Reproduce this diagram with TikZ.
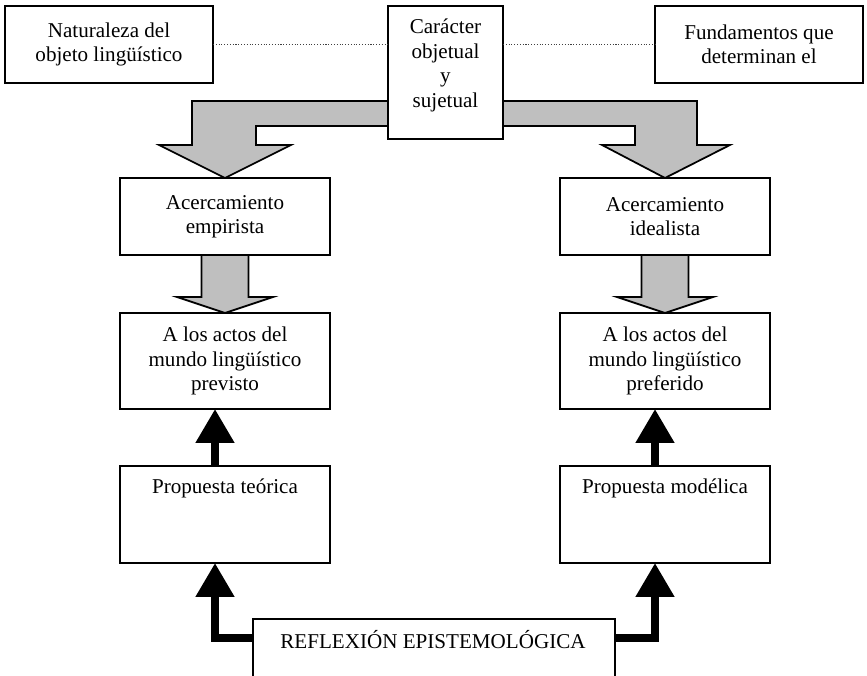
\documentclass[tikz,border=0pt]{standalone}
\usepackage{fontspec}
\setmainfont{Liberation Serif}
\usetikzlibrary{arrows.meta}

\tikzset{
	caja/.style={draw, line width=1pt, fill=white, inner sep=0pt, outer sep=0pt, align=center, font=\fontsize{12}{13.9}\selectfont},
	texto/.style={inner sep=0pt, align=center, font=\fontsize{12}{13.9}\selectfont},
	flechagris/.style={draw, line width=1pt, fill=black!25, line join=miter},
	flechanegra/.style={line width=0.16cm, -{Triangle[width=0.74cm,length=0.68cm]}},
	punteado/.style={densely dotted, black!75, line width=0.6pt}
}

\begin{document}
\begin{tikzpicture}
	\path[use as bounding box, clip] (0,0) rectangle (17.34,-13.52);
	% fila superior
	\node[caja, minimum width=4.16cm, minimum height=1.54cm] (nat) at (2.18,-0.89) {Naturaleza del\\objeto lingüístico};
	\node[caja, minimum width=4.16cm, minimum height=1.54cm] (fun) at (15.18,-0.89) {Fundamentos que\\determinan el};
	% columna izquierda
	\node[caja, minimum width=4.2cm, minimum height=1.54cm] (emp) at (4.50,-4.33) {Acercamiento\\empirista};
	\node[caja, minimum width=4.2cm, minimum height=1.92cm] (prev) at (4.50,-7.22) {A los actos del\\mundo lingüístico\\previsto};
	\node[caja, minimum width=4.2cm, minimum height=1.94cm] (teo) at (4.50,-10.29) {};
	\node[texto] (teotxt) at ([yshift=-0.44cm]teo.north) {Propuesta teórica};
	% columna derecha
	\node[caja, minimum width=4.2cm, minimum height=1.54cm] (ide) at (13.30,-4.33) {Acercamiento\\idealista};
	\node[caja, minimum width=4.2cm, minimum height=1.92cm] (pref) at (13.30,-7.22) {A los actos del\\mundo lingüístico\\preferido};
	\node[caja, minimum width=4.2cm, minimum height=1.94cm] (mod) at (13.30,-10.29) {};
	\node[texto] (modtxt) at ([yshift=-0.44cm]mod.north) {Propuesta modélica};
	% abajo
	\node[caja, minimum width=7.24cm, minimum height=1.62cm] (refl) at (8.68,-13.19) {};
	\node[texto] (refltxt) at (8.66,-12.80) {REFLEXIÓN EPISTEMOLÓGICA};

	% flechas grises
	\draw[flechagris] (emp.north) -- (5.82,-2.90) -- (5.12,-2.90) -- (5.12,-2.52) -- (12.70,-2.52) -- (12.70,-2.90) -- (12.04,-2.90) -- (ide.north) -- (14.60,-2.90) -- (13.94,-2.90) -- (13.94,-2.02) -- (3.84,-2.02) -- (3.84,-2.90) -- (3.18,-2.90) -- cycle;
	\draw[flechagris] ([xshift=-0.47cm]emp.south) --++(0,-0.84) --++(-0.49,0) -- (prev.north) --++(0.96,0.32) --++(-0.49,0) --++(0,0.84) -- cycle;
	\draw[flechagris] ([xshift=-0.47cm]ide.south) --++(0,-0.84) --++(-0.49,0) -- (pref.north) --++(0.96,0.32) --++(-0.49,0) --++(0,0.84) -- cycle;

	% caja central encima
	\node[caja, minimum width=2.30cm, minimum height=2.66cm] (car) at (8.91,-1.45) {};
	\node[texto] (cartxt) at (8.91,-1.31) {Carácter\\objetual\\y\\sujetual};
	\draw[punteado] (nat.east) -- (nat.east -| car.west);
	\draw[punteado] (car.east |- fun.west) -- (fun.west);

	% flechas negras
	\draw[flechanegra] ([xshift=-0.2cm]teo.north) -- ([xshift=-0.2cm]prev.south);
	\draw[flechanegra] ([xshift=-0.2cm]mod.north) -- ([xshift=-0.2cm]pref.south);
	\draw[flechanegra] ([yshift=-0.38cm]refl.north west) -| ([xshift=-0.2cm]teo.south);
	\draw[flechanegra] ([yshift=-0.38cm]refl.north east) -| ([xshift=-0.2cm]mod.south);
\end{tikzpicture}
\end{document}
